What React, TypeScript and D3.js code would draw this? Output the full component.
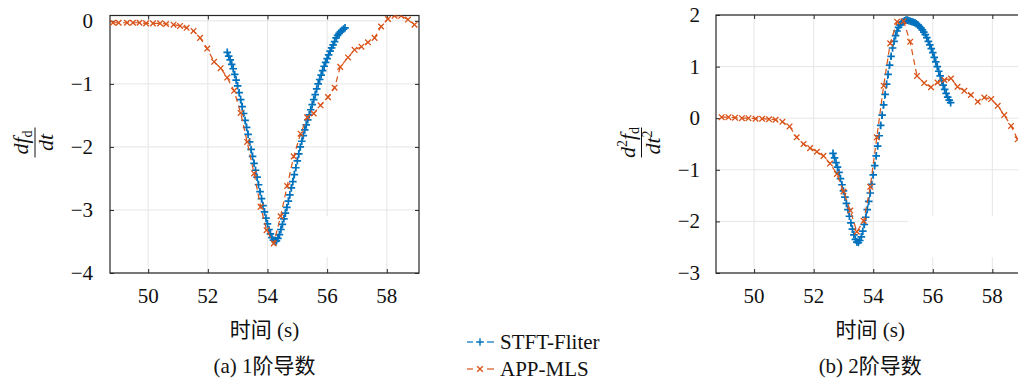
import { useEffect, useRef } from "react";
import * as d3 from "d3";

const svg_width = 1018;
const svg_height = 381;
const blue = "#0072BD";
const orange = "#D95319";
const serif = "'Liberation Serif', 'Noto Sans CJK SC', serif";

// STFT-Fliter, sampled every 0.05 s
const stftTime = [
    52.65, 52.70, 52.75, 52.80, 52.85, 52.90, 52.95, 53.00, 53.05, 53.10,
    53.15, 53.20, 53.25, 53.30, 53.35, 53.40, 53.45, 53.50, 53.55, 53.60,
    53.65, 53.70, 53.75, 53.80, 53.85, 53.90, 53.95, 54.00, 54.05, 54.10,
    54.15, 54.20, 54.25, 54.30, 54.35, 54.40, 54.45, 54.50, 54.55, 54.60,
    54.65, 54.70, 54.75, 54.80, 54.85, 54.90, 54.95, 55.00, 55.05, 55.10,
    55.15, 55.20, 55.25, 55.30, 55.35, 55.40, 55.45, 55.50, 55.55, 55.60,
    55.65, 55.70, 55.75, 55.80, 55.85, 55.90, 55.95, 56.00, 56.05, 56.10,
    56.15, 56.20, 56.25, 56.30, 56.35, 56.40, 56.45, 56.50, 56.55, 56.60,
];
const stftFirst = [
    -0.50, -0.56, -0.62, -0.69, -0.76, -0.85, -0.94, -1.03, -1.14, -1.25,
    -1.36, -1.47, -1.58, -1.69, -1.80, -1.92, -2.04, -2.15, -2.26, -2.37,
    -2.48, -2.60, -2.71, -2.82, -2.93, -3.03, -3.13, -3.22, -3.31, -3.38,
    -3.44, -3.48, -3.50, -3.49, -3.45, -3.39, -3.31, -3.23, -3.14, -3.05,
    -2.96, -2.86, -2.76, -2.65, -2.55, -2.44, -2.33, -2.22, -2.11, -2.00,
    -1.91, -1.82, -1.73, -1.65, -1.57, -1.49, -1.41, -1.33, -1.25, -1.17,
    -1.08, -1.00, -0.93, -0.86, -0.79, -0.72, -0.66, -0.60, -0.54, -0.48,
    -0.43, -0.38, -0.33, -0.27, -0.23, -0.20, -0.17, -0.15, -0.13, -0.11,
];
const stftSecond = [
    -0.68, -0.77, -0.86, -0.95, -1.05, -1.17, -1.29, -1.41, -1.53, -1.65,
    -1.77, -1.90, -2.03, -2.15, -2.26, -2.35, -2.40, -2.41, -2.37, -2.30,
    -2.19, -2.06, -1.92, -1.77, -1.61, -1.45, -1.28, -1.10, -0.92, -0.73,
    -0.54, -0.34, -0.14, 0.06, 0.26, 0.46, 0.66, 0.85, 1.03, 1.20,
    1.36, 1.49, 1.60, 1.69, 1.76, 1.81, 1.85, 1.87, 1.89, 1.90,
    1.90, 1.89, 1.88, 1.87, 1.86, 1.85, 1.83, 1.81, 1.78, 1.75,
    1.71, 1.67, 1.62, 1.56, 1.49, 1.42, 1.35, 1.27, 1.18, 1.09,
    1.00, 0.91, 0.82, 0.73, 0.64, 0.56, 0.48, 0.41, 0.35, 0.30,
];

// APP-MLS
const mlsTimeFirst = [
    48.82, 49.01, 49.29, 49.49, 49.71, 49.93, 50.16, 50.40, 50.60, 50.85,
    51.07, 51.29, 51.52, 51.74, 51.98, 52.21, 52.43, 52.65, 52.88, 53.10,
    53.32, 53.55, 53.77, 53.97, 54.21, 54.44, 54.66, 54.88, 55.11, 55.33,
    55.55, 55.78, 56.03, 56.25, 56.44, 56.70, 56.92, 57.15, 57.37, 57.59,
    57.81, 58.04, 58.26, 58.48, 58.71, 58.93,
];
const mlsFirst = [
    -0.03, -0.03, -0.03, -0.03, -0.03, -0.04, -0.04, -0.04, -0.05, -0.06,
    -0.08, -0.11, -0.16, -0.27, -0.44, -0.65, -0.75, -0.90, -1.11, -1.46,
    -1.92, -2.42, -2.95, -3.32, -3.53, -3.10, -2.62, -2.15, -1.79, -1.53,
    -1.47, -1.34, -1.21, -1.06, -0.73, -0.58, -0.46, -0.41, -0.34, -0.27,
    -0.09, 0.03, 0.08, 0.08, 0.02, -0.06,
];
const mlsTimeSecond = [
    48.91, 49.14, 49.36, 49.59, 49.81, 50.05, 50.27, 50.50, 50.72, 50.95,
    51.19, 51.43, 51.66, 51.88, 52.11, 52.33, 52.55, 52.78, 53.00, 53.23,
    53.45, 53.68, 53.90, 54.12, 54.35, 54.57, 54.80, 55.02, 55.24, 55.47,
    55.71, 55.94, 56.16, 56.39, 56.61, 56.83, 57.06, 57.28, 57.51, 57.73,
    57.96, 58.18, 58.40, 58.63, 58.85,
];
const mlsSecond = [
    0.02, 0.02, 0.01, 0.00, 0.00, -0.01, -0.01, -0.02, -0.03, -0.07,
    -0.16, -0.37, -0.50, -0.58, -0.65, -0.73, -0.88, -1.08, -1.42, -1.79,
    -2.20, -1.99, -1.33, -0.37, 0.63, 1.45, 1.87, 1.88, 1.48, 0.82,
    0.68, 0.60, 0.69, 0.74, 0.77, 0.61, 0.53, 0.45, 0.32, 0.40,
    0.37, 0.24, 0.06, -0.15, -0.41,
];

const xDomain = [48.72, 59.08];
const xTicks = [50, 52, 54, 56, 58];
const yTicksFirst = [0, -1, -2, -3, -4];
const yTicksSecond = [2, 1, 0, -1, -2, -3];
const seriesNames = ["STFT-Fliter", "APP-MLS"];
const captions = ["(a) 1阶导数", "(b) 2阶导数"];
const xTitle = "时间 (s)";

const plusPath = "M-3.8,0H3.8M0,-3.8V3.8";
const crossPath = "M-2.8,-2.8L2.8,2.8M-2.8,2.8L2.8,-2.8";

interface Panel {
    id: string;
    left: number;
    right: number;
    top: number;
    bottom: number;
    yDomain: number[];
    yTicks: number[];
    stft: number[];
    mlsTime: number[];
    mls: number[];
    caption: string;
    blank: number[];
    labelX: number;
    yPad: number;
    second: boolean;
}

const panels: Panel[] = [
    {
        id: "a", left: 110, right: 419, top: 15.5, bottom: 273,
        yDomain: [-4, 0.085], yTicks: yTicksFirst,
        stft: stftFirst, mlsTime: mlsTimeFirst, mls: mlsFirst,
        caption: captions[0], blank: [309, 346, 216, 257], labelX: 35, yPad: 17, second: false,
    },
    {
        id: "b", left: 716, right: 1024.5, top: 15, bottom: 273,
        yDomain: [-3, 2], yTicks: yTicksSecond,
        stft: stftSecond, mlsTime: mlsTimeSecond, mls: mlsSecond,
        caption: captions[1], blank: [908, 1030, 216, 257], labelX: 641.5, yPad: 16, second: true,
    },
];

const fmt = (d: number) => (d < 0 ? "\u2212" + Math.abs(d) : String(d));

function drawPanel(svg: any, p: Panel) {
    const x = d3.scaleLinear().domain(xDomain).range([p.left, p.right]);
    const y = d3.scaleLinear().domain(p.yDomain).range([p.bottom, p.top]);
    const g = svg.append("g");

    g.append("clipPath").attr("id", `clip-${p.id}`)
        .append("rect")
            .attr("x", p.left).attr("y", p.top)
            .attr("width", p.right - p.left).attr("height", p.bottom - p.top);

    // grid
    g.append("g").selectAll("line").data(xTicks).join("line")
        .attr("x1", (d: number) => x(d)).attr("x2", (d: number) => x(d))
        .attr("y1", p.top).attr("y2", p.bottom)
        .attr("stroke", "#e6e6e6").attr("stroke-width", 1);
    g.append("g").selectAll("line").data(p.yTicks).join("line")
        .attr("x1", p.left).attr("x2", p.right)
        .attr("y1", (d: number) => y(d)).attr("y2", (d: number) => y(d))
        .attr("stroke", "#e6e6e6").attr("stroke-width", 1);

    // leftover white patch in the figure
    g.append("rect")
        .attr("x", p.blank[0]).attr("y", p.blank[2])
        .attr("width", p.blank[1] - p.blank[0]).attr("height", p.blank[3] - p.blank[2])
        .attr("fill", "white");

    // tick marks only, pointing inwards
    const styleAxis = (a: any) => {
        a.select(".domain").remove();
        a.selectAll(".tick line").attr("stroke", "#262626");
        a.selectAll(".tick text").remove();
    };
    g.append("g").attr("transform", `translate(0,${p.bottom})`)
        .call(d3.axisBottom(x).tickValues(xTicks).tickSizeInner(-4).tickSizeOuter(0))
        .call(styleAxis);
    g.append("g").attr("transform", `translate(0,${p.top})`)
        .call(d3.axisTop(x).tickValues(xTicks).tickSizeInner(-4).tickSizeOuter(0))
        .call(styleAxis);
    g.append("g").attr("transform", `translate(${p.left},0)`)
        .call(d3.axisLeft(y).tickValues(p.yTicks).tickSizeInner(-4).tickSizeOuter(0))
        .call(styleAxis);
    g.append("g").attr("transform", `translate(${p.right},0)`)
        .call(d3.axisRight(y).tickValues(p.yTicks).tickSizeInner(-4).tickSizeOuter(0))
        .call(styleAxis);

    // tick labels
    g.append("g").selectAll("text").data(xTicks).join("text")
        .attr("x", (d: number) => x(d)).attr("y", p.bottom + 30)
        .attr("text-anchor", "middle")
        .attr("font-family", serif).attr("font-size", 21).attr("fill", "#111")
        .text((d: number) => fmt(d));
    g.append("g").selectAll("text").data(p.yTicks).join("text")
        .attr("x", p.left - p.yPad).attr("y", (d: number) => y(d) + 7)
        .attr("text-anchor", "end")
        .attr("font-family", serif).attr("font-size", 21).attr("fill", "#111")
        .text((d: number) => fmt(d));

    g.append("rect")
        .attr("x", p.left).attr("y", p.top)
        .attr("width", p.right - p.left).attr("height", p.bottom - p.top)
        .attr("fill", "none").attr("stroke", "#262626").attr("stroke-width", 1.2);

    // data
    const data = g.append("g").attr("clip-path", `url(#clip-${p.id})`);
    const stftPts = stftTime.map((t, i) => [x(t), y(p.stft[i])] as [number, number]);
    const mlsPts = p.mlsTime.map((t, i) => [x(t), y(p.mls[i])] as [number, number]);
    const line = d3.line();

    data.append("path").attr("d", line(stftPts))
        .attr("fill", "none").attr("stroke", blue).attr("stroke-width", 1.2)
        .attr("stroke-dasharray", "6,4");
    data.append("g").selectAll("path").data(stftPts).join("path")
        .attr("transform", (d: number[]) => `translate(${d[0]},${d[1]})`)
        .attr("d", plusPath).attr("stroke", blue).attr("stroke-width", 1.7).attr("fill", "none");

    data.append("path").attr("d", line(mlsPts))
        .attr("fill", "none").attr("stroke", orange).attr("stroke-width", 1.2)
        .attr("stroke-dasharray", "6,4");
    data.append("g").selectAll("path").data(mlsPts).join("path")
        .attr("transform", (d: number[]) => `translate(${d[0]},${d[1]})`)
        .attr("d", crossPath).attr("stroke", orange).attr("stroke-width", 1.3).attr("fill", "none");

    // titles
    const cx = (p.left + p.right) / 2;
    g.append("text").attr("x", cx).attr("y", 337).attr("text-anchor", "middle")
        .attr("font-family", serif).attr("font-size", 21).attr("fill", "#111").text(xTitle);
    g.append("text").attr("x", cx).attr("y", 373).attr("text-anchor", "middle")
        .attr("font-family", serif).attr("font-size", 21).attr("fill", "#111").text(p.caption);

    // y label as a fraction
    const lab = g.append("g")
        .attr("transform", `translate(${p.labelX},142.5) rotate(-90)`)
        .attr("font-family", serif).attr("fill", "#111");
    lab.append("line").attr("x1", -15).attr("x2", 15).attr("y1", 0).attr("y2", 0)
        .attr("stroke", "#111").attr("stroke-width", 1);
    const num = lab.append("text").attr("x", 0).attr("y", -7).attr("text-anchor", "middle").attr("font-size", 22);
    const den = lab.append("text").attr("x", 0).attr("y", 18).attr("text-anchor", "middle").attr("font-size", 22);
    if (p.second) {
        num.append("tspan").attr("font-style", "italic").text("d");
        num.append("tspan").attr("font-size", 14).attr("dy", -8).text("2");
        num.append("tspan").attr("font-style", "italic").attr("dy", 8).text("f");
        num.append("tspan").attr("font-size", 14).attr("dy", 4).text("d");
        den.append("tspan").attr("font-style", "italic").text("dt");
        den.append("tspan").attr("font-size", 14).attr("dy", -8).text("2");
    } else {
        num.append("tspan").attr("font-style", "italic").text("df");
        num.append("tspan").attr("font-size", 14).attr("dy", 4).text("d");
        den.append("tspan").attr("font-style", "italic").text("dt");
    }
}

export default function App() {
    const ref = useRef(null);

    useEffect(() => {
        const svg = d3.select(ref.current)
            .append("svg")
                .attr("width", svg_width)
                .attr("height", svg_height)
                .style("position", "absolute")
                .style("left", "0px")
                .style("top", "0px")
                .style("background-color", "white");

        panels.forEach((p) => drawPanel(svg, p));

        // legend between the two panels
        const legend = svg.append("g");
        const rows = [
            { name: seriesNames[0], color: blue, mark: plusPath, y: 342 },
            { name: seriesNames[1], color: orange, mark: crossPath, y: 369 },
        ];
        rows.forEach((r) => {
            legend.append("line").attr("x1", 467).attr("x2", 473).attr("y1", r.y).attr("y2", r.y)
                .attr("stroke", r.color).attr("stroke-width", 1.2);
            legend.append("line").attr("x1", 487).attr("x2", 494).attr("y1", r.y).attr("y2", r.y)
                .attr("stroke", r.color).attr("stroke-width", 1.2);
            legend.append("path").attr("transform", `translate(480,${r.y})`)
                .attr("d", r.mark).attr("stroke", r.color).attr("stroke-width", 1.4).attr("fill", "none");
            legend.append("text").attr("x", 500).attr("y", r.y + 7)
                .attr("font-family", serif).attr("font-size", 21).attr("fill", "#111").text(r.name);
        });

        return () => {
            d3.select(ref.current).selectAll("*").remove();
        };
    }, [ref]);

    return (
        <div ref={ref} />
    );
}
